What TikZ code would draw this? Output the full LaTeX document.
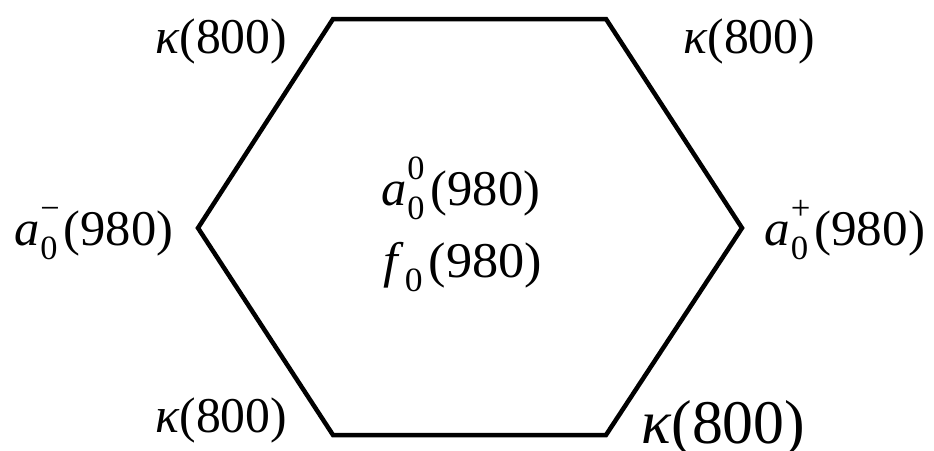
\documentclass[tikz,border=0pt]{standalone}
\usepackage{fontspec}
\setmainfont{Liberation Serif}
\newcommand{\supsubx}[2]{\makebox[18pt][l]{\makebox[0pt][l]{\raisebox{26pt}{\fontsize{34}{34}\selectfont #1}}\raisebox{-14pt}{\fontsize{34}{34}\selectfont #2}}}
\newcommand{\fitw}[2]{\resizebox{#1}{\height}{#2}}
\begin{document}
\begin{tikzpicture}[x=1pt,y=-1pt,
  lbl/.style={anchor=base west,inner sep=0pt,font=\fontsize{50}{56}\selectfont},
  biglbl/.style={anchor=base west,inner sep=0pt,font=\fontsize{62}{68}\selectfont},
  hexline/.style={line width=4.5pt,line join=miter}]
\path[use as bounding box] (0,0) rectangle (934,450);
\coordinate (v1) at (333,19);
\coordinate (v2) at (606,19);
\coordinate (v3) at (742,228);
\coordinate (v4) at (606,435);
\coordinate (v5) at (333,435);
\coordinate (v6) at (198,228);
\draw[hexline] (v1) -- (v2) -- (v3) -- (v4) -- (v5) -- (v6) -- cycle;
\node[lbl] (ktl) at (155,53) {\fitw{132pt}{\textit{κ}(800)}};
\node[lbl] (ktr) at (683,53) {\fitw{132pt}{\textit{κ}(800)}};
\node[lbl] (am) at (14,245) {\fitw{159pt}{\textit{a}\kern1pt\supsubx{−}{0}\hspace{5pt}(980)}};
\node[lbl] (ap) at (764,245) {\fitw{161pt}{\textit{a}\kern1pt\supsubx{+}{0}\hspace{5pt}(980)}};
\node[lbl] (a0) at (381,205) {\fitw{159pt}{\textit{a}\kern1pt\supsubx{0}{0}\hspace{5pt}(980)}};
\node[lbl] (f0) at (383,277) {\fitw{159pt}{\textit{f}\kern1pt\supsubx{}{0}\hspace{5pt}(980)}};
\node[lbl] (kbl) at (155,432) {\fitw{132pt}{\textit{κ}(800)}};
\node[biglbl] (kbr) at (641,443) {\fitw{164pt}{\textit{κ}(800)}};
\end{tikzpicture}
\end{document}
